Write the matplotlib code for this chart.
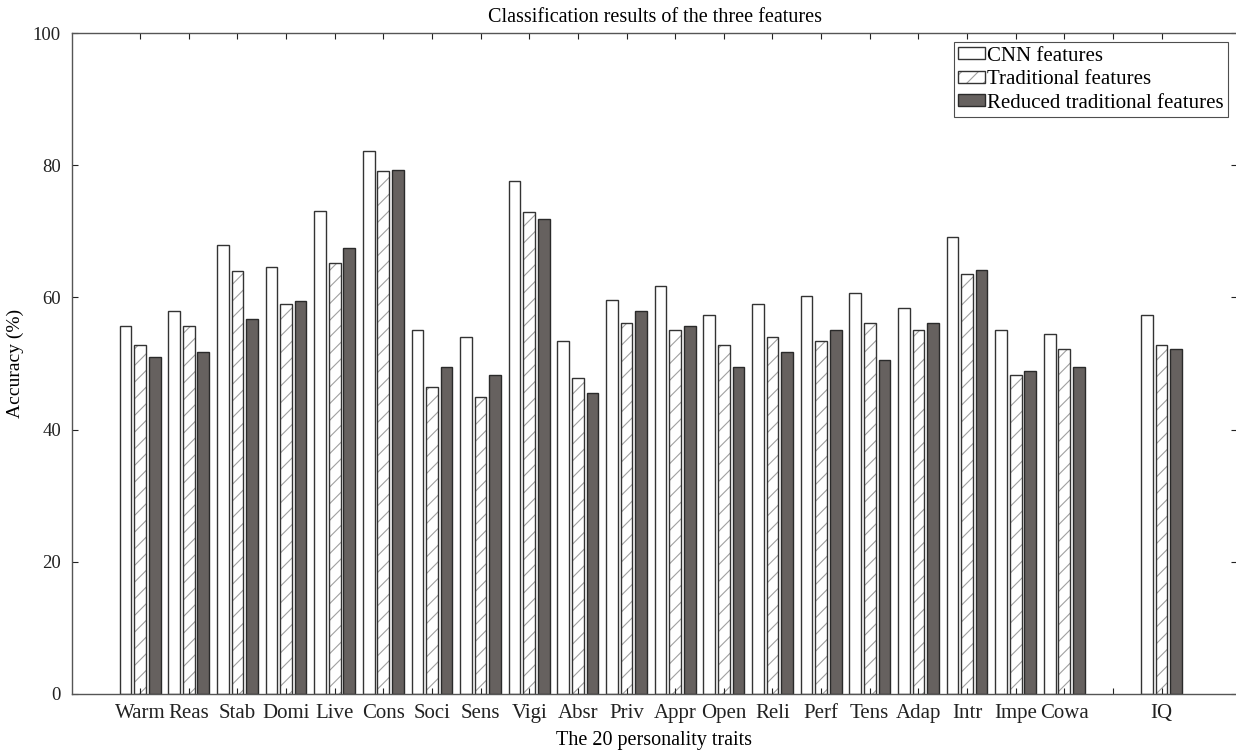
import matplotlib.pyplot as plt
from matplotlib.patches import Patch
from matplotlib.legend_handler import HandlerTuple
import numpy as np

plt.rcParams['font.family'] = ['Liberation Serif', 'DejaVu Serif']

traits = ['Warm', 'Reas', 'Stab', 'Domi', 'Live', 'Cons', 'Soci', 'Sens', 'Vigi', 'Absr',
          'Priv', 'Appr', 'Open', 'Reli', 'Perf', 'Tens', 'Adap', 'Intr', 'Impe', 'Cowa', 'IQ']
cnn = [55.6, 57.9, 68.0, 64.6, 73.1, 82.1, 55.0, 54.0, 77.6, 53.4,
       59.6, 61.8, 57.3, 59.0, 60.2, 60.7, 58.4, 69.1, 55.0, 54.5, 57.3]
trad = [52.8, 55.6, 64.0, 59.0, 65.2, 79.1, 46.5, 45.0, 72.9, 47.8,
        56.2, 55.0, 52.8, 54.0, 53.4, 56.2, 55.0, 63.5, 48.3, 52.2, 52.8]
reduced = [51.0, 51.7, 56.7, 59.5, 67.5, 79.3, 49.4, 48.3, 71.9, 45.5,
           57.9, 55.6, 49.4, 51.7, 55.0, 50.6, 56.2, 64.1, 48.9, 49.4, 52.2]

# 20 traits at 1..20, gap at 21, IQ at 22
x = np.array(list(range(1, 21)) + [22])
w = 0.24
off = 0.3

plt.rcParams['hatch.linewidth'] = 0.8

fig = plt.figure(figsize=(12.36, 7.51), dpi=100)
ax = fig.add_axes([72 / 1236, 1 - 694 / 751, (1237 - 72) / 1236, (694 - 33) / 751])

edge = '#333333'
hatch_grey = '#a0a0a0'
ax.bar(x - off, cnn, w, color='white', edgecolor=edge, linewidth=1)
# hatched fill in light grey, then dark outline on top
ax.bar(x, trad, w, color='white', edgecolor=hatch_grey, linewidth=0, hatch='//')
ax.bar(x, trad, w, color='none', edgecolor=edge, linewidth=1)
ax.bar(x + off, reduced, w, color='#66615f', edgecolor='#2a2a2a', linewidth=1)

ax.set_xlim(-0.4, 23.55)
ax.set_ylim(0, 100)
ax.set_xticks(list(range(1, 23)))
ax.set_xticklabels(traits[:20] + [''] + ['IQ'])
ax.set_yticks([0, 20, 40, 60, 80, 100])
ax.tick_params(direction='in', top=True, right=True, length=4, width=0.8,
               colors='#222222')
ax.tick_params(axis='x', labelsize=15, pad=7)
ax.tick_params(axis='y', labelsize=13.5, pad=8)
for s in ax.spines.values():
    s.set_color('#555555')
    s.set_linewidth(1.0)

ax.set_title('Classification results of the three features', fontsize=14.5, pad=8)
ax.set_xlabel('The 20 personality traits', fontsize=14.5, labelpad=6)
ax.set_ylabel('Accuracy (%)', fontsize=14, labelpad=6)

h1 = Patch(facecolor='white', edgecolor=edge, linewidth=1)
h2 = (Patch(facecolor='white', edgecolor=hatch_grey, linewidth=0, hatch='//'),
      Patch(facecolor='none', edgecolor=edge, linewidth=1))
h3 = Patch(facecolor='#66615f', edgecolor='#2a2a2a', linewidth=1)
leg = ax.legend([h1, h2, h3],
                ['CNN features', 'Traditional features', 'Reduced traditional features'],
                handler_map={tuple: HandlerTuple(ndivide=1, pad=0)},
                loc='upper right', fontsize=15, frameon=True, fancybox=False,
                edgecolor='#222222', handlelength=1.3, handleheight=0.5,
                handletextpad=0.1, borderpad=0.2, labelspacing=0.22,
                borderaxespad=0.45, bbox_to_anchor=(1.0, 1.0))
leg.get_frame().set_linewidth(0.8)

fig.savefig('out.png', dpi=100, facecolor='white')
